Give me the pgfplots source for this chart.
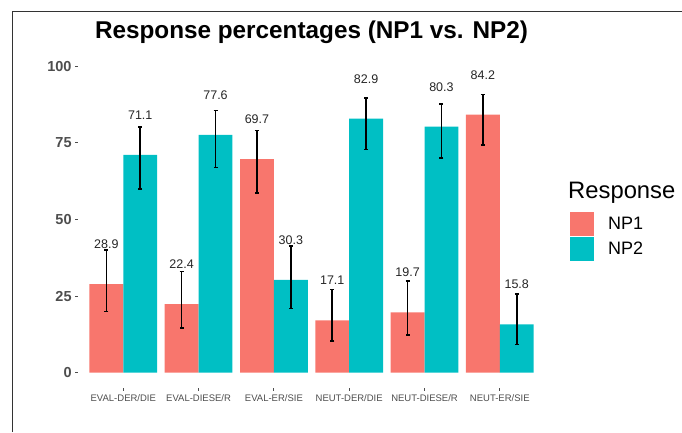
\documentclass[border=0pt]{standalone}
\usepackage{fontspec}
\setmainfont{Liberation Sans}
\usepackage{pgfplots}
\pgfplotsset{compat=1.18}
\usepackage{pgfplotstable}
\definecolor{np1}{HTML}{F8766D}
\definecolor{np2}{HTML}{00BFC4}
\definecolor{tickgray}{HTML}{4D4D4D}

% x1 / x2: category position -/+ half a dodge width
\pgfplotstableread{
x x1 x2 np1 p1 m1 np2 p2 m2
1 0.775 1.225 28.9 11.1 9.0 71.1 9.0 11.1
2 1.775 2.225 22.4 10.6 7.9 77.6 7.9 10.6
3 2.775 3.225 69.7 9.3 11.0 30.3 11.0 9.3
4 3.775 4.225 17.1 10.1 6.8 82.9 6.8 10.1
5 4.775 5.225 19.7 10.3 7.4 80.3 7.4 10.3
6 5.775 6.225 84.2 6.6 9.9 15.8 9.9 6.6
}\data

\begin{document}
\begin{tikzpicture}
\useasboundingbox (0,0) rectangle (682pt,-432pt);
\begin{axis}[
  at={(78.1pt,-387.7pt)}, anchor=south west,
  scale only axis, width=466.9pt, height=329.8pt,
  xmin=0.4, xmax=6.6, ymin=-4.9, ymax=102.7,
  axis line style={draw=none},
  tick pos=left,
  tick align=outside,
  major tick length=3pt,
  tick style={tickgray, line width=0.8pt},
  xtick={1,...,6},
  xticklabels={EVAL-DER/DIE, EVAL-DIESE/R, EVAL-ER/SIE, NEUT-DER/DIE, NEUT-DIESE/R, NEUT-ER/SIE},
  ytick={0,25,50,75,100},
  /pgf/number format/assume math mode=true,
  xticklabel style={font=\fontsize{9.5}{10}\selectfont, text=tickgray},
  yticklabel style={font=\fontsize{14.5}{16}\selectfont\bfseries, text=tickgray},
  title={Response percentages (NP1 vs. NP2)},
  title style={font=\fontsize{24.3}{28}\selectfont\bfseries, at={(0.5,1)}, anchor=base, yshift=13pt},
  legend style={draw=none, fill=none, at={(1.0535,0.5337)}, anchor=north west, inner sep=0pt, row sep=0.8pt, column sep=14pt, font=\fontsize{18}{20}\selectfont, nodes={inner sep=0pt}},
  legend cell align=left,
  legend image code/.code={\fill[#1] (0pt,-12.2pt) rectangle (24pt,12.2pt);},
  error bars/error bar style={black, line width=1.6pt},
  error bars/error mark options={black, line width=1.6pt, mark size=2pt, rotate=90},
  nodes near coords style={font=\fontsize{12.5}{14}\selectfont, anchor=center, yshift=39.8pt, text=black!85},
]
\addplot[ybar, bar width=0.45, bar shift=0, fill=np1, draw=none, nodes near coords,
  error bars/.cd, y dir=both, y explicit]
  table[x=x1, y=np1, y error plus=p1, y error minus=m1] {\data};
\addlegendentry{NP1}
\addplot[ybar, bar width=0.45, bar shift=0, fill=np2, draw=none, nodes near coords,
  error bars/.cd, y dir=both, y explicit]
  table[x=x2, y=np2, y error plus=p2, y error minus=m2] {\data};
\addlegendentry{NP2}
\end{axis}
\node[anchor=base west, font=\fontsize{23.8}{26}\selectfont, inner sep=0pt] at (568pt,-198.3pt) {Response};
\draw[line width=1.2pt, black!80] (12.5pt,-432pt) -- (12.5pt,-11.7pt) -- (682pt,-11.7pt);
\end{tikzpicture}
\end{document}
